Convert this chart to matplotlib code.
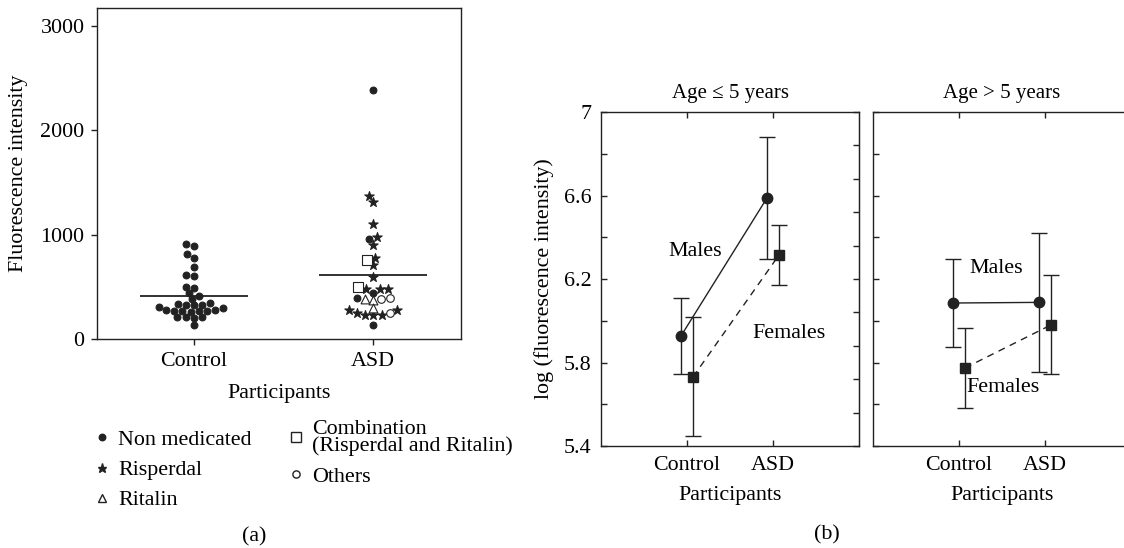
import numpy as np
import matplotlib
matplotlib.use("Agg")
import matplotlib.pyplot as plt
from matplotlib.lines import Line2D

plt.rcParams['font.family'] = ['Liberation Serif', 'DejaVu Serif']
plt.rcParams['font.size'] = 15.8

INK = '#222222'
W, H = 1124, 548

groups = ['Control', 'ASD']

# (a) fluorescence intensity per participant
control_values = [892, 911, 815, 777, 690, 614, 604, 489, 499, 412, 441, 383,
                  297, 335, 326, 307, 322, 330, 345,
                  268, 272, 262, 270, 265, 275, 280,
                  211, 205, 214, 208, 134]

asd_values = [2387, 959, 441, 393, 134,
              1313, 1371, 1102, 978, 901, 777, 709, 594, 479, 481, 477,
              278, 249, 232, 230, 228, 282,
              757, 499,
              383, 374, 297,
              393, 383, 249]
asd_kinds = ['none'] * 5 + ['risperdal'] * 17 + ['combination'] * 2 + \
            ['ritalin'] * 3 + ['others'] * 3

kind_labels = {'none': 'Non medicated', 'risperdal': 'Risperdal',
               'ritalin': 'Ritalin',
               'combination': 'Combination\n(Risperdal and Ritalin)',
               'others': 'Others'}
kind_style = {'none': dict(marker='o', s=24, facecolor=INK),
              'risperdal': dict(marker='*', s=50, facecolor=INK),
              'ritalin': dict(marker='^', s=40, facecolor='white'),
              'combination': dict(marker='s', s=48, facecolor='white'),
              'others': dict(marker='o', s=30, facecolor='white')}

# (b) log(fluorescence intensity), mean and error
le5_male_mean = [5.927, 6.588]
le5_male_err = [0.18, 0.29]
le5_female_mean = [5.731, 6.315]
le5_female_err = [0.285, 0.142]
gt5_male_mean = [6.085, 6.088]
gt5_male_err = [0.213, 0.333]
gt5_female_mean = [5.774, 5.98]
gt5_female_err = [0.193, 0.237]


def box(x0, y0, x1, y1):
    return [x0 / W, 1 - y1 / H, (x1 - x0) / W, (y1 - y0) / H]


def swarm(ax, xc, values, dx_px, dy_px):
    # beeswarm with an elliptical footprint, so close rows stack
    pts = ax.transData.transform(np.column_stack([np.full(len(values), xc), values]))
    ypx = pts[:, 1] * dx_px / dy_px
    d = dx_px
    xoff = np.zeros(len(values))
    placed = []
    for i in np.argsort(ypx, kind='stable'):
        cands = [0.0]
        for px, py in placed:
            dy = ypx[i] - py
            if abs(dy) < d:
                dx = np.sqrt(d ** 2 - dy ** 2)
                cands += [px - dx, px + dx]
        cands.sort(key=abs)
        for c in cands:
            if all((c - px) ** 2 + (ypx[i] - py) ** 2 >= d ** 2 - 1e-6 for px, py in placed):
                xoff[i] = c
                break
        placed.append((xoff[i], ypx[i]))
    scale = ax.transData.transform((1, 0))[0] - ax.transData.transform((0, 0))[0]
    return xc + xoff / scale


def style_spines(ax):
    for sp in ax.spines.values():
        sp.set_color(INK)
        sp.set_linewidth(1)


fig = plt.figure(figsize=(W / 100, H / 100), dpi=100)

# ---- panel (a)
ax = fig.add_axes(box(97, 8, 461, 339))
style_spines(ax)
ax.set_xlim(0.46, 2.49)
ax.set_ylim(0, 3170)
ax.set_xticks([1, 2])
ax.set_xticklabels(groups)
ax.set_yticks([0, 1000, 2000, 3000])
ax.tick_params(direction='out', length=4, width=1, color=INK, pad=5)
ax.set_xlabel('Participants', labelpad=10)
ax.set_ylabel('Fluorescence intensity')
ax.yaxis.set_label_coords((28 - 97) / 364, 0.5)

cx = swarm(ax, 1, control_values, 8.2, 6.5)
ax.scatter(cx, control_values, edgecolor=INK, linewidth=0.8, **kind_style['none'])
ax.hlines(np.mean(control_values), 0.7, 1.3, color=INK, lw=1.3)

ax_x = swarm(ax, 2, asd_values, 8.4, 6.8)
for k in kind_labels:
    idx = [i for i, kk in enumerate(asd_kinds) if kk == k]
    ax.scatter(ax_x[idx], np.array(asd_values)[idx], edgecolor=INK,
               linewidth=0.8, **kind_style[k])
ax.hlines(np.mean(asd_values), 1.7, 2.3, color=INK, lw=1.3)

handles = []
for k in ['none', 'risperdal', 'ritalin', 'combination', 'others']:
    st = kind_style[k]
    handles.append(Line2D([], [], ls='none', marker=st['marker'],
                          markersize=np.sqrt(st['s']) * 0.95,
                          markerfacecolor=st['facecolor'], markeredgecolor=INK,
                          label=kind_labels[k]))
leg = fig.legend(handles=handles, ncol=2, frameon=False, loc='upper left',
                 bbox_to_anchor=(73 / W, 1 - 400 / H), handlelength=0.8,
                 handletextpad=0.35, columnspacing=1.62, labelspacing=0.45,
                 fontsize=15.8)
for t in leg.get_texts():
    t.set_linespacing(0.85)

fig.text(254 / W, 1 - 537 / H, '(a)', ha='center', va='center')

# ---- panel (b)
def setup_b(ax, title, show_labels):
    style_spines(ax)
    ax.set_xlim(0, 3)
    ax.set_ylim(5.4, 7)
    ax.set_xticks([1, 2])
    ax.set_xticklabels(groups)
    yt = np.round(np.arange(5.4, 7.001, 0.2), 2)
    ax.set_yticks(yt)
    if show_labels:
        ax.set_yticklabels([('%g' % v) if round(v * 10) % 4 == 2 else '' for v in yt])
    else:
        ax.set_yticklabels([])
    ax.tick_params(direction='in', length=4, width=1, color=INK, top=True, pad=7)
    ax.set_title(title, pad=10, fontsize=15)
    ax.set_xlabel('Participants', labelpad=8)


def draw_b(ax, male_mean, male_err, female_mean, female_err):
    xm = np.array([1, 2]) - 0.07
    xf = np.array([1, 2]) + 0.07
    ax.errorbar(xm, male_mean, yerr=male_err, fmt='none', ecolor=INK,
                elinewidth=1, capsize=6, capthick=1)
    ax.errorbar(xf, female_mean, yerr=female_err, fmt='none', ecolor=INK,
                elinewidth=1, capsize=6, capthick=1)
    ax.plot(xm, male_mean, '-', color=INK, lw=1, marker='o', markersize=7.5)
    ax.plot(xf, female_mean, '--', color=INK, lw=1, marker='s', markersize=7.5,
            dashes=(5, 4))


b1 = fig.add_axes(box(601, 112, 859, 446))
setup_b(b1, 'Age ≤ 5 years', True)
b1.set_ylabel('log (fluorescence intensity)')
b1.yaxis.set_label_coords((554 - 601) / 258, 0.5)
draw_b(b1, le5_male_mean, le5_male_err, le5_female_mean, le5_female_err)
b1.text(1.09, 6.33, 'Males', ha='center', va='center')
b1.text(2.19, 5.94, 'Females', ha='center', va='center')
right = b1.secondary_yaxis('right')
right.set_yticks(np.round(np.arange(5.4, 7.001, 0.16), 2))
right.set_yticklabels([])
right.tick_params(direction='in', length=4, width=1, color=INK)
right.spines['right'].set_color(INK)

b2 = fig.add_axes(box(873, 112, 1131, 446))
setup_b(b2, 'Age > 5 years', False)
draw_b(b2, gt5_male_mean, gt5_male_err, gt5_female_mean, gt5_female_err)
b2.text(1.43, 6.25, 'Males', ha='center', va='center')
b2.text(1.51, 5.68, 'Females', ha='center', va='center')

fig.text(827 / W, 1 - 535 / H, '(b)', ha='center', va='center')

fig.savefig('out.png', dpi=100)
